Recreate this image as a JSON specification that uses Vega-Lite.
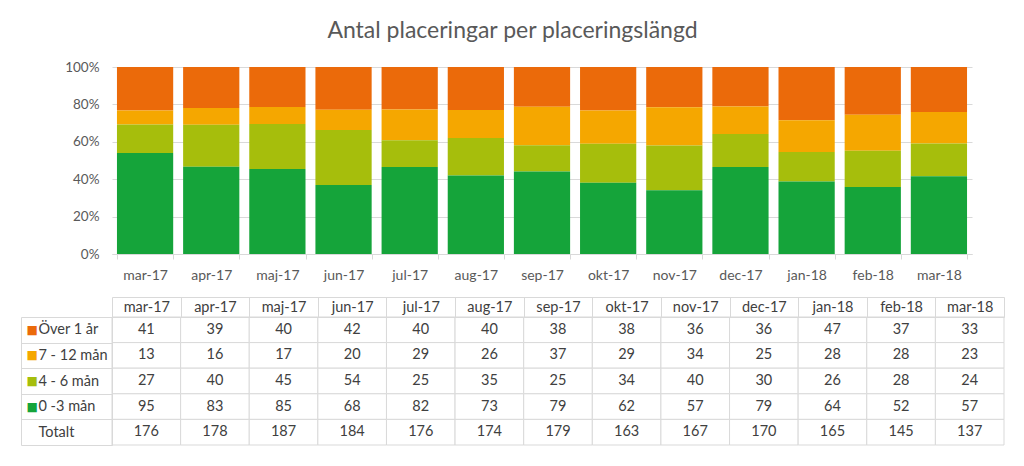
{
  "$schema": "https://vega.github.io/schema/vega-lite/v6.json",
  "padding": {"left": 20, "top": 20, "right": 10, "bottom": 5},
  "background": "white",
  "title": {"text": "Antal placeringar per placeringslängd", "fontSize": 23, "font": "Lato", "fontWeight": "normal", "color": "#595959", "anchor": "middle", "offset": 17},
  "config": {"view": {"stroke": null}, "font": "Lato", "concat": {"spacing": 14}},
  "datasets": {
    "d": [
      {"m": "mar-17", "s": "Över 1 år", "n": 41}, {"m": "apr-17", "s": "Över 1 år", "n": 39}, {"m": "maj-17", "s": "Över 1 år", "n": 40}, {"m": "jun-17", "s": "Över 1 år", "n": 42}, {"m": "jul-17", "s": "Över 1 år", "n": 40}, {"m": "aug-17", "s": "Över 1 år", "n": 40}, {"m": "sep-17", "s": "Över 1 år", "n": 38}, {"m": "okt-17", "s": "Över 1 år", "n": 38}, {"m": "nov-17", "s": "Över 1 år", "n": 36}, {"m": "dec-17", "s": "Över 1 år", "n": 36}, {"m": "jan-18", "s": "Över 1 år", "n": 47}, {"m": "feb-18", "s": "Över 1 år", "n": 37}, {"m": "mar-18", "s": "Över 1 år", "n": 33},
      {"m": "mar-17", "s": "7 - 12 mån", "n": 13}, {"m": "apr-17", "s": "7 - 12 mån", "n": 16}, {"m": "maj-17", "s": "7 - 12 mån", "n": 17}, {"m": "jun-17", "s": "7 - 12 mån", "n": 20}, {"m": "jul-17", "s": "7 - 12 mån", "n": 29}, {"m": "aug-17", "s": "7 - 12 mån", "n": 26}, {"m": "sep-17", "s": "7 - 12 mån", "n": 37}, {"m": "okt-17", "s": "7 - 12 mån", "n": 29}, {"m": "nov-17", "s": "7 - 12 mån", "n": 34}, {"m": "dec-17", "s": "7 - 12 mån", "n": 25}, {"m": "jan-18", "s": "7 - 12 mån", "n": 28}, {"m": "feb-18", "s": "7 - 12 mån", "n": 28}, {"m": "mar-18", "s": "7 - 12 mån", "n": 23},
      {"m": "mar-17", "s": "4 - 6 mån", "n": 27}, {"m": "apr-17", "s": "4 - 6 mån", "n": 40}, {"m": "maj-17", "s": "4 - 6 mån", "n": 45}, {"m": "jun-17", "s": "4 - 6 mån", "n": 54}, {"m": "jul-17", "s": "4 - 6 mån", "n": 25}, {"m": "aug-17", "s": "4 - 6 mån", "n": 35}, {"m": "sep-17", "s": "4 - 6 mån", "n": 25}, {"m": "okt-17", "s": "4 - 6 mån", "n": 34}, {"m": "nov-17", "s": "4 - 6 mån", "n": 40}, {"m": "dec-17", "s": "4 - 6 mån", "n": 30}, {"m": "jan-18", "s": "4 - 6 mån", "n": 26}, {"m": "feb-18", "s": "4 - 6 mån", "n": 28}, {"m": "mar-18", "s": "4 - 6 mån", "n": 24},
      {"m": "mar-17", "s": "0 -3 mån", "n": 95}, {"m": "apr-17", "s": "0 -3 mån", "n": 83}, {"m": "maj-17", "s": "0 -3 mån", "n": 85}, {"m": "jun-17", "s": "0 -3 mån", "n": 68}, {"m": "jul-17", "s": "0 -3 mån", "n": 82}, {"m": "aug-17", "s": "0 -3 mån", "n": 73}, {"m": "sep-17", "s": "0 -3 mån", "n": 79}, {"m": "okt-17", "s": "0 -3 mån", "n": 62}, {"m": "nov-17", "s": "0 -3 mån", "n": 57}, {"m": "dec-17", "s": "0 -3 mån", "n": 79}, {"m": "jan-18", "s": "0 -3 mån", "n": 64}, {"m": "feb-18", "s": "0 -3 mån", "n": 52}, {"m": "mar-18", "s": "0 -3 mån", "n": 57},
      {"m": "mar-17", "s": "Totalt", "n": 176}, {"m": "apr-17", "s": "Totalt", "n": 178}, {"m": "maj-17", "s": "Totalt", "n": 187}, {"m": "jun-17", "s": "Totalt", "n": 184}, {"m": "jul-17", "s": "Totalt", "n": 176}, {"m": "aug-17", "s": "Totalt", "n": 174}, {"m": "sep-17", "s": "Totalt", "n": 179}, {"m": "okt-17", "s": "Totalt", "n": 163}, {"m": "nov-17", "s": "Totalt", "n": 167}, {"m": "dec-17", "s": "Totalt", "n": 170}, {"m": "jan-18", "s": "Totalt", "n": 165}, {"m": "feb-18", "s": "Totalt", "n": 145}, {"m": "mar-18", "s": "Totalt", "n": 137}
    ]
  },
  "vconcat": [
    {
      "width": 860,
      "height": 187,
      "data": {"name": "d"},
      "transform": [
        {"filter": "datum.s !== 'Totalt'"},
        {"calculate": "indexof(['0 -3 mån', '4 - 6 mån', '7 - 12 mån', 'Över 1 år'], datum.s)", "as": "o"}
      ],
      "mark": {"type": "bar"},
      "encoding": {
        "x": {
          "field": "m", "type": "nominal",
          "scale": {"domain": ["mar-17", "apr-17", "maj-17", "jun-17", "jul-17", "aug-17", "sep-17", "okt-17", "nov-17", "dec-17", "jan-18", "feb-18", "mar-18"], "paddingInner": 0.15, "paddingOuter": 0.075},
          "axis": {"title": null, "labelAngle": 0, "tickBand": "extent", "tickSize": 5, "tickColor": "#d9d9d9", "domainColor": "#d9d9d9", "labelColor": "#595959", "labelFontSize": 14, "labelPadding": 9, "labelFont": "Lato"}
        },
        "y": {
          "field": "n", "type": "quantitative", "stack": "normalize",
          "axis": {"title": null, "format": "%", "values": [0, 0.2, 0.4, 0.6, 0.8, 1], "domain": false, "ticks": false, "gridColor": "#d9d9d9", "labelColor": "#595959", "labelFontSize": 13.5, "labelPadding": 13, "labelFont": "Lato"}
        },
        "color": {
          "field": "s", "type": "nominal",
          "scale": {"domain": ["Över 1 år", "7 - 12 mån", "4 - 6 mån", "0 -3 mån"], "range": ["#EB6A0A", "#F5A700", "#A6BE0C", "#15A43A"]},
          "legend": null
        },
        "order": {"field": "o", "type": "quantitative"}
      }
    },
    {
      "width": 892,
      "height": 128,
      "data": {"name": "d"},
      "encoding": {
        "x": {
          "field": "m", "type": "nominal",
          "scale": {"domain": ["mar-17", "apr-17", "maj-17", "jun-17", "jul-17", "aug-17", "sep-17", "okt-17", "nov-17", "dec-17", "jan-18", "feb-18", "mar-18"], "paddingInner": 0, "paddingOuter": 0}
        },
        "y": {
          "field": "s", "type": "nominal",
          "scale": {"domain": ["Över 1 år", "7 - 12 mån", "4 - 6 mån", "0 -3 mån", "Totalt"], "paddingInner": 0, "paddingOuter": 0}
        }
      },
      "layer": [
        {
          "mark": {"type": "rect", "fill": "white", "stroke": "#d9d9d9", "strokeWidth": 1},
          "encoding": {
            "x": {"field": "m", "type": "nominal", "axis": {"orient": "top", "title": null, "labelAngle": 0, "tickBand": "extent", "tickSize": 20, "tickColor": "#d9d9d9", "domainColor": "#d9d9d9", "labelColor": "#404040", "labelFontSize": 14.5, "labelPadding": -17, "labelFont": "Lato"}},
            "y": {"field": "s", "type": "nominal", "axis": {"orient": "left", "title": null, "tickBand": "extent", "tickSize": 91, "tickColor": "#d9d9d9", "domainColor": "#d9d9d9", "labelColor": "#404040", "labelFontSize": 14.5, "labelAlign": "left", "labelPadding": -17, "labelFont": "Lato", "labelExpr": "datum.value === 'Totalt' ? ' Totalt' : datum.value"}}
          }
        },
        {
          "mark": {"type": "text", "fontSize": 14.5, "color": "#404040", "font": "Lato"},
          "encoding": {
            "text": {"field": "n", "type": "quantitative"},
            "x": {"field": "m", "type": "nominal", "axis": {"orient": "top", "title": null, "offset": 20, "labels": false, "ticks": false, "domainColor": "#d9d9d9"}},
            "y": {"field": "s", "type": "nominal", "axis": {"orient": "left", "title": null, "offset": 91, "ticks": false, "domainColor": "#d9d9d9", "labelAlign": "left", "labelPadding": -5, "labelFont": "DejaVu Sans", "labelFontSize": 12, "labelExpr": "datum.value === 'Totalt' ? '' : '■'", "labelColor": {"condition": [{"test": "datum.value === 'Över 1 år'", "value": "#EB6A0A"}, {"test": "datum.value === '7 - 12 mån'", "value": "#F5A700"}, {"test": "datum.value === '4 - 6 mån'", "value": "#A6BE0C"}], "value": "#15A43A"}}}
          }
        }
      ],
      "resolve": {"axis": {"x": "independent", "y": "independent"}}
    }
  ]
}
